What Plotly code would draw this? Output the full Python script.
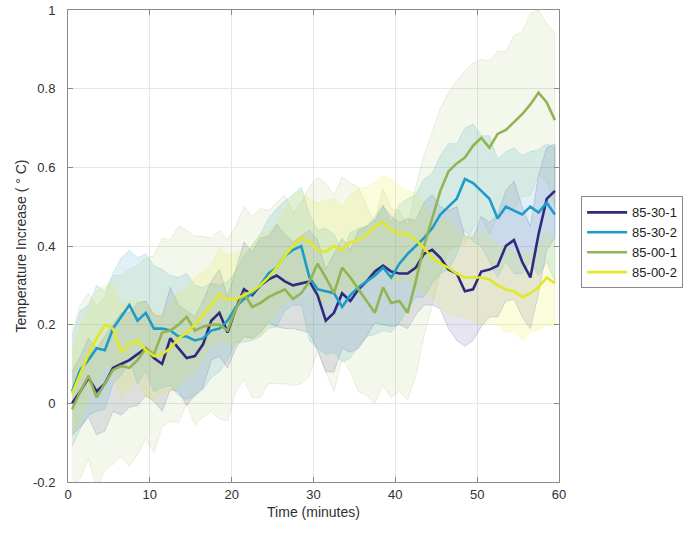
import plotly.graph_objects as go

# ---------------- data ----------------
time_min = [0.5, 1.5, 2.5, 3.5, 4.5, 5.5, 6.5, 7.5, 8.5, 9.5,
            10.5, 11.5, 12.5, 13.5, 14.5, 15.5, 16.5, 17.5, 18.5, 19.5,
            20.5, 21.5, 22.5, 23.5, 24.5, 25.5, 26.5, 27.5, 28.5, 29.5,
            30.5, 31.5, 32.5, 33.5, 34.5, 35.5, 36.5, 37.5, 38.5, 39.5,
            40.5, 41.5, 42.5, 43.5, 44.5, 45.5, 46.5, 47.5, 48.5, 49.5,
            50.5, 51.5, 52.5, 53.5, 54.5, 55.5, 56.5, 57.5, 58.5, 59.5]

series_names = ["85-30-1", "85-30-2", "85-00-1", "85-00-2"]

mean_85_30_1 = [0.00, 0.03, 0.065, 0.03, 0.05, 0.09, 0.10, 0.11, 0.125, 0.14,
                0.115, 0.10, 0.165, 0.14, 0.115, 0.12, 0.15, 0.21, 0.23, 0.18,
                0.24, 0.29, 0.275, 0.30, 0.315, 0.325, 0.31, 0.30, 0.305, 0.31,
                0.275, 0.21, 0.23, 0.28, 0.26, 0.29, 0.31, 0.335, 0.35, 0.335,
                0.33, 0.33, 0.345, 0.38, 0.39, 0.37, 0.34, 0.33, 0.285, 0.29,
                0.335, 0.34, 0.35, 0.40, 0.415, 0.36, 0.32, 0.43, 0.52, 0.54]
mean_85_30_2 = [0.03, 0.085, 0.11, 0.14, 0.135, 0.19, 0.22, 0.25, 0.21, 0.23,
                0.19, 0.19, 0.185, 0.17, 0.17, 0.16, 0.165, 0.185, 0.19, 0.21,
                0.245, 0.265, 0.28, 0.30, 0.33, 0.345, 0.375, 0.39, 0.40, 0.32,
                0.29, 0.285, 0.28, 0.245, 0.275, 0.295, 0.31, 0.325, 0.345, 0.32,
                0.355, 0.38, 0.40, 0.42, 0.445, 0.48, 0.50, 0.52, 0.57, 0.56,
                0.54, 0.52, 0.47, 0.50, 0.49, 0.48, 0.50, 0.485, 0.51, 0.48]
mean_85_00_1 = [-0.015, 0.03, 0.07, 0.015, 0.05, 0.085, 0.095, 0.09, 0.11, 0.14,
                0.125, 0.18, 0.185, 0.20, 0.22, 0.185, 0.195, 0.20, 0.20, 0.185,
                0.24, 0.28, 0.245, 0.255, 0.27, 0.28, 0.29, 0.265, 0.28, 0.31,
                0.355, 0.32, 0.28, 0.345, 0.32, 0.29, 0.26, 0.23, 0.295, 0.255,
                0.26, 0.23, 0.31, 0.40, 0.47, 0.54, 0.59, 0.61, 0.625, 0.655,
                0.675, 0.65, 0.685, 0.695, 0.715, 0.735, 0.76, 0.79, 0.765, 0.72]
mean_85_00_2 = [0.025, 0.075, 0.125, 0.165, 0.20, 0.19, 0.13, 0.15, 0.16, 0.135,
                0.12, 0.125, 0.14, 0.165, 0.18, 0.20, 0.225, 0.25, 0.275, 0.265,
                0.265, 0.275, 0.285, 0.30, 0.32, 0.345, 0.375, 0.40, 0.42, 0.41,
                0.39, 0.385, 0.40, 0.39, 0.41, 0.415, 0.43, 0.45, 0.46, 0.44,
                0.43, 0.43, 0.415, 0.395, 0.37, 0.355, 0.345, 0.33, 0.32, 0.32,
                0.32, 0.315, 0.30, 0.29, 0.285, 0.27, 0.28, 0.295, 0.32, 0.305]

# half-widths of the shaded bands
spread_85_30_1 = [0.08, 0.09, 0.10, 0.11, 0.12, 0.11, 0.13, 0.12, 0.13, 0.12,
                  0.11, 0.12, 0.13, 0.11, 0.12, 0.10, 0.11, 0.10, 0.11, 0.09,
                  0.10, 0.12, 0.11, 0.12, 0.11, 0.13, 0.12, 0.11, 0.12, 0.13,
                  0.14, 0.13, 0.15, 0.14, 0.13, 0.15, 0.14, 0.13, 0.15, 0.14,
                  0.13, 0.14, 0.12, 0.13, 0.14, 0.13, 0.15, 0.17, 0.14, 0.13,
                  0.14, 0.12, 0.13, 0.14, 0.15, 0.14, 0.13, 0.15, 0.13, 0.12]
spread_85_30_2 = [0.14, 0.15, 0.14, 0.16, 0.15, 0.14, 0.15, 0.14, 0.16, 0.15,
                  0.16, 0.15, 0.14, 0.15, 0.16, 0.14, 0.13, 0.12, 0.11, 0.10,
                  0.09, 0.11, 0.12, 0.13, 0.14, 0.15, 0.14, 0.14, 0.15, 0.16,
                  0.15, 0.16, 0.15, 0.14, 0.16, 0.15, 0.14, 0.15, 0.16, 0.14,
                  0.15, 0.14, 0.13, 0.15, 0.14, 0.15, 0.16, 0.14, 0.13, 0.15,
                  0.14, 0.16, 0.15, 0.14, 0.16, 0.15, 0.14, 0.16, 0.15, 0.17]
spread_85_00_1 = [0.20, 0.22, 0.21, 0.23, 0.22, 0.24, 0.23, 0.25, 0.24, 0.23,
                  0.25, 0.24, 0.23, 0.25, 0.22, 0.24, 0.23, 0.22, 0.24, 0.23,
                  0.21, 0.22, 0.23, 0.24, 0.22, 0.23, 0.24, 0.22, 0.23, 0.24,
                  0.22, 0.24, 0.25, 0.23, 0.24, 0.26, 0.24, 0.23, 0.25, 0.24,
                  0.23, 0.22, 0.24, 0.23, 0.22, 0.21, 0.20, 0.21, 0.22, 0.21,
                  0.20, 0.22, 0.21, 0.20, 0.22, 0.21, 0.23, 0.21, 0.20, 0.22]
spread_85_00_2 = [0.11, 0.12, 0.11, 0.12, 0.10, 0.11, 0.12, 0.11, 0.10, 0.12,
                  0.11, 0.10, 0.11, 0.12, 0.11, 0.12, 0.11, 0.10, 0.12, 0.11,
                  0.12, 0.11, 0.12, 0.13, 0.12, 0.11, 0.12, 0.13, 0.12, 0.11,
                  0.12, 0.13, 0.12, 0.11, 0.12, 0.13, 0.12, 0.11, 0.12, 0.13,
                  0.12, 0.11, 0.12, 0.11, 0.10, 0.11, 0.12, 0.11, 0.10, 0.11,
                  0.12, 0.11, 0.10, 0.11, 0.10, 0.11, 0.10, 0.11, 0.12, 0.11]

x_ticks = [0, 10, 20, 30, 40, 50, 60]
y_ticks = [-0.2, 0, 0.2, 0.4, 0.6, 0.8, 1]
y_tick_labels = ["-0.2", "0", "0.2", "0.4", "0.6", "0.8", "1"]

# ---------------- styling ----------------
line_colors = ["#2f2a80", "#1e9bc8", "#93b453", "#e0e828"]
band_rgb = [(47, 42, 128), (30, 155, 200), (147, 180, 83), (226, 234, 36)]
band_alpha = [0.12, 0.14, 0.11, 0.16]

means = [mean_85_30_1, mean_85_30_2, mean_85_00_1, mean_85_00_2]
spreads = [spread_85_30_1, spread_85_30_2, spread_85_00_1, spread_85_00_2]

fig = go.Figure()

# shaded bands first
for name, m, s, rgb, al in zip(series_names, means, spreads, band_rgb, band_alpha):
    upper = [a + b for a, b in zip(m, s)]
    lower = [a - b for a, b in zip(m, s)]
    xs = time_min + time_min[::-1]
    ys = upper + lower[::-1]
    r, g, b = rgb
    fig.add_trace(go.Scatter(
        x=xs, y=ys, mode="lines", fill="toself",
        fillcolor=f"rgba({r},{g},{b},{al})",
        line=dict(color=f"rgba({r},{g},{b},0.22)", width=0.8),
        showlegend=False, hoverinfo="skip"))

# mean lines on top
for name, m, c in zip(series_names, means, line_colors):
    fig.add_trace(go.Scatter(
        x=time_min, y=m, mode="lines", name=name,
        line=dict(color=c, width=2.6)))

font_family = "Liberation Sans, Arial, sans-serif"
axis_common = dict(
    showline=True, linecolor="#8a8a8a", linewidth=1, mirror="ticks",
    ticks="inside", ticklen=5, tickcolor="#8a8a8a",
    showgrid=True, gridcolor="#e6e6e6", gridwidth=1,
    zeroline=False,
    tickfont=dict(family=font_family, size=13, color="#303030"),
)

fig.update_xaxes(
    range=[0, 60], tickvals=x_ticks,
    title=dict(text="Time (minutes)", standoff=6,
               font=dict(family=font_family, size=14, color="#303030")),
    **axis_common)
fig.update_yaxes(
    range=[-0.2, 1], tickvals=y_ticks, ticktext=y_tick_labels,
    ticklabelstandoff=9,
    title=dict(text="Temperature Increase ( ° C)", standoff=3,
               font=dict(family=font_family, size=14, color="#303030")),
    **axis_common)

fig.update_layout(
    width=690, height=533,
    margin=dict(l=68, r=131, t=10, b=51, autoexpand=False),
    paper_bgcolor="white", plot_bgcolor="white",
    showlegend=True,
    legend=dict(
        x=1.045, y=0.605, xanchor="left", yanchor="top",
        bgcolor="white", bordercolor="#8a8a8a", borderwidth=1,
        font=dict(family=font_family, size=13, color="#202020"),
        itemwidth=40, tracegroupgap=0,
    ),
)

fig.write_html("out.html")
